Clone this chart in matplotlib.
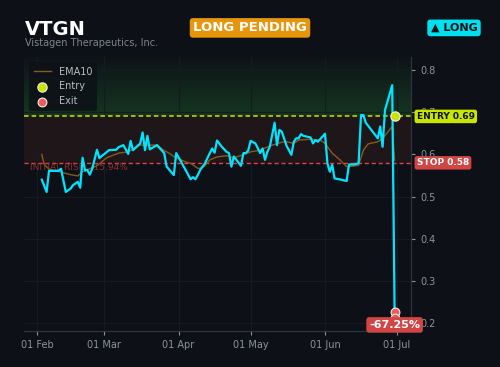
import matplotlib
matplotlib.use("Agg")
import matplotlib.pyplot as plt
import matplotlib.dates as mdates
import numpy as np
import pandas as pd

BG = "#0d1117"
CYAN = "#00e5ff"
LIME = "#c8e600"
RED = "#e04444"
GRAY = "#8b949e"

ticker = "VTGN"
company = "Vistagen Therapeutics, Inc."

# price line
price_dates = [
    "2023-02-03", "2023-02-05", "2023-02-06", "2023-02-10", "2023-02-11", "2023-02-13",
    "2023-02-15", "2023-02-16", "2023-02-18", "2023-02-19", "2023-02-20", "2023-02-21",
    "2023-02-22", "2023-02-23", "2023-02-24", "2023-02-26", "2023-02-27", "2023-02-28",
    "2023-03-03", "2023-03-06", "2023-03-07", "2023-03-09", "2023-03-11", "2023-03-12",
    "2023-03-13", "2023-03-16", "2023-03-17", "2023-03-18", "2023-03-19", "2023-03-20",
    "2023-03-23", "2023-03-26", "2023-03-27", "2023-03-30", "2023-03-31", "2023-04-02",
    "2023-04-06", "2023-04-07", "2023-04-08", "2023-04-09", "2023-04-10", "2023-04-12",
    "2023-04-14", "2023-04-15", "2023-04-16", "2023-04-17", "2023-04-19", "2023-04-21",
    "2023-04-22", "2023-04-23", "2023-04-24", "2023-04-27", "2023-04-28", "2023-04-29",
    "2023-04-30", "2023-05-01", "2023-05-03", "2023-05-05", "2023-05-06", "2023-05-07",
    "2023-05-08", "2023-05-09", "2023-05-11", "2023-05-12", "2023-05-13", "2023-05-14",
    "2023-05-16", "2023-05-18", "2023-05-19", "2023-05-20", "2023-05-21", "2023-05-22",
    "2023-05-23", "2023-05-26", "2023-05-27", "2023-05-28", "2023-05-29", "2023-05-30",
    "2023-06-01", "2023-06-02", "2023-06-03", "2023-06-04", "2023-06-05", "2023-06-07",
    "2023-06-10", "2023-06-11", "2023-06-13", "2023-06-15", "2023-06-16", "2023-06-17",
    "2023-06-18", "2023-06-23", "2023-06-24", "2023-06-25", "2023-06-26", "2023-06-29",
    "2023-06-30",
]
price_values = [
    0.540, 0.511, 0.561, 0.561, 0.566, 0.511,
    0.519, 0.527, 0.535, 0.521, 0.592, 0.562,
    0.563, 0.552, 0.566, 0.611, 0.591, 0.596,
    0.610, 0.611, 0.617, 0.622, 0.601, 0.632,
    0.610, 0.626, 0.652, 0.610, 0.644, 0.612,
    0.622, 0.603, 0.571, 0.551, 0.603, 0.583,
    0.541, 0.546, 0.541, 0.551, 0.563, 0.579,
    0.603, 0.614, 0.604, 0.633, 0.618, 0.606,
    0.603, 0.571, 0.595, 0.573, 0.603, 0.603,
    0.609, 0.632, 0.626, 0.603, 0.614, 0.587,
    0.606, 0.618, 0.675, 0.622, 0.658, 0.654,
    0.620, 0.599, 0.630, 0.638, 0.638, 0.648,
    0.644, 0.640, 0.626, 0.634, 0.630, 0.636,
    0.649, 0.579, 0.559, 0.575, 0.543, 0.541,
    0.537, 0.576, 0.576, 0.579, 0.693, 0.693,
    0.675, 0.638, 0.666, 0.618, 0.705, 0.764,
    0.226,
]

ema_dates = [
    "2023-02-03", "2023-02-04", "2023-02-06", "2023-02-11", "2023-02-15", "2023-02-18",
    "2023-02-20", "2023-02-26", "2023-03-02", "2023-03-07", "2023-03-11", "2023-03-16",
    "2023-03-23", "2023-03-26", "2023-03-28", "2023-03-30", "2023-04-02", "2023-04-04",
    "2023-04-06", "2023-04-09", "2023-04-10", "2023-04-12", "2023-04-14", "2023-04-17",
    "2023-04-21", "2023-04-24", "2023-04-28", "2023-05-01", "2023-05-05", "2023-05-09",
    "2023-05-14", "2023-05-16", "2023-05-19", "2023-05-21", "2023-05-26", "2023-05-30",
    "2023-06-01", "2023-06-04", "2023-06-07", "2023-06-10", "2023-06-11", "2023-06-15",
    "2023-06-17", "2023-06-19", "2023-06-23", "2023-06-25", "2023-06-29", "2023-06-30",
]
ema_values = [
    0.600, 0.576, 0.565, 0.558, 0.552, 0.549,
    0.559, 0.573, 0.592, 0.603, 0.606, 0.622,
    0.622, 0.609, 0.603, 0.595, 0.587, 0.582,
    0.579, 0.567, 0.567, 0.573, 0.587, 0.594,
    0.597, 0.592, 0.599, 0.606, 0.610, 0.620,
    0.629, 0.630, 0.626, 0.634, 0.636, 0.634,
    0.626, 0.603, 0.588, 0.571, 0.571, 0.574,
    0.610, 0.625, 0.630, 0.638, 0.666, 0.586,
]

entry_price = 0.69
stop_price = 0.58
entry_date = "2023-06-30"
exit_dates = ["2023-06-30", "2023-06-30"]
exit_values = [0.226, 0.212]
result_pct = -67.25
month_ticks = ["2023-02-01", "2023-03-01", "2023-04-01", "2023-05-01", "2023-06-01", "2023-07-01"]
y_ticks = [0.2, 0.3, 0.4, 0.5, 0.6, 0.7, 0.8]

px = pd.to_datetime(price_dates)
ex = pd.to_datetime(ema_dates)
x0 = pd.Timestamp("2023-01-26 14:00")
x1 = pd.Timestamp("2023-07-06 20:00")
y0, y1 = 0.1815, 0.831

fig = plt.figure(figsize=(5.0, 3.67), dpi=100, facecolor=BG)
ax = fig.add_axes([0.048, 0.098, 0.774, 0.747])
ax.set_facecolor(BG)

# green zone above entry: brighter near the entry line, fading upwards
green = np.zeros((100, 1, 4))
green[..., 0] = 0.16
green[..., 1] = 0.55
green[..., 2] = 0.22
green[:, 0, 3] = np.linspace(0.30, 0.02, 100)
ax.imshow(green, extent=[mdates.date2num(x0), mdates.date2num(x1), entry_price, y1],
          aspect="auto", origin="lower", zorder=0)
ax.axhspan(stop_price, entry_price, color="#f85149", alpha=0.08, lw=0, zorder=0)

ax.grid(True, color="#161b22", lw=0.8, zorder=0.5)
ax.axhline(entry_price, color=LIME, ls="--", lw=1.1, dashes=(3, 2), zorder=2)
ax.axhline(stop_price, color=RED, ls="--", lw=1.0, dashes=(3, 2), zorder=2)

ax.plot(ex, ema_values, color="#8a5a1c", lw=1.0, label="EMA10", zorder=3)
ax.plot(px, price_values, color=CYAN, lw=1.6, zorder=4)
ax.scatter(pd.to_datetime([entry_date]), [entry_price], s=45, color=LIME,
           edgecolor="#f0f0f0", lw=0.8, zorder=6, label="Entry")
ax.scatter(pd.to_datetime(exit_dates), exit_values, s=40, color="#f05a5a",
           edgecolor="#f0f0f0", lw=0.8, zorder=6, label="Exit")

ax.set_xlim(x0, x1)
ax.set_ylim(y0, y1)
ax.set_xticks(pd.to_datetime(month_ticks))
ax.xaxis.set_major_formatter(mdates.DateFormatter("%d %b"))
ax.set_yticks(y_ticks)
ax.yaxis.tick_right()
ax.tick_params(colors=GRAY, labelsize=7, length=3, width=0.8)
for s in ["left", "top"]:
    ax.spines[s].set_visible(False)
for s in ["right", "bottom"]:
    ax.spines[s].set_color("#30363d")

ax.text(0.016, stop_price - 0.012, "INITIAL RISK: -15.94%", transform=ax.get_yaxis_transform(),
        color="#b03535", fontsize=6.5, va="center", ha="left", alpha=0.8, zorder=3)

ax.annotate(f"ENTRY {entry_price:.2f}", xy=(1.015, entry_price), xycoords=("axes fraction", "data"),
            ha="left", va="center", fontsize=6.5, fontweight="bold", color="#0d1117",
            bbox=dict(boxstyle="round,pad=0.25", fc=LIME, ec="none"), zorder=10, annotation_clip=False)
ax.annotate(f"STOP {stop_price:.2f}", xy=(1.015, stop_price), xycoords=("axes fraction", "data"),
            ha="left", va="center", fontsize=6.5, fontweight="bold", color="white",
            bbox=dict(boxstyle="round,pad=0.25", fc="#d24545", ec="none"), zorder=10, annotation_clip=False)
ax.annotate(f"{result_pct:.2f}%", xy=(pd.Timestamp(entry_date), 0.196), ha="center", va="center",
            fontsize=8, fontweight="bold", color="white",
            bbox=dict(boxstyle="round,pad=0.25", fc="#d24545", ec="none"), zorder=10, annotation_clip=False)

leg = ax.legend(loc="upper left", fontsize=7, frameon=True, facecolor=BG, edgecolor="none",
                framealpha=0.85, labelcolor="#b8bcc2", borderpad=0.5, handlelength=1.8)

fig.text(0.05, 0.919, ticker, color="white", fontsize=14, fontweight="bold", va="center", ha="left")
fig.text(0.05, 0.882, company, color="#7d8590", fontsize=7, va="center", ha="left")
fig.text(0.5, 0.924, "LONG PENDING", color="white", fontsize=9.5, fontweight="bold", ha="center", va="center",
         bbox=dict(boxstyle="round,pad=0.25", fc="#e8950e", ec="none"))
fig.text(0.908, 0.924, "▲ LONG", color="#0d1117", fontsize=8, fontweight="bold", ha="center", va="center",
         bbox=dict(boxstyle="round,pad=0.3", fc="#00e1f0", ec="none"))

fig.savefig("out.png", dpi=100, facecolor=BG)
